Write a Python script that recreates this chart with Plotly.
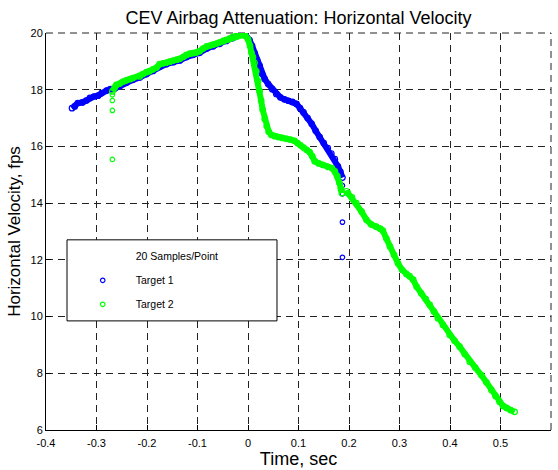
import plotly.graph_objects as go

# ---------------- data ----------------
# Target 1 (blue) main trace
t1 = [-0.3485, -0.343, -0.337, -0.328, -0.320, -0.313, -0.305, -0.297, -0.290, -0.280, -0.2725,
      -0.264, -0.254, -0.241, -0.228, -0.2145, -0.201, -0.188, -0.175, -0.162, -0.148, -0.135,
      -0.122, -0.109, -0.096, -0.082, -0.069, -0.056, -0.043, -0.030, -0.020, -0.013, -0.005,
      0.003, 0.008, 0.013, 0.018, 0.023, 0.028, 0.033, 0.040, 0.048, 0.056, 0.064, 0.072,
      0.080, 0.088, 0.096, 0.103, 0.110, 0.118, 0.126, 0.134, 0.142, 0.150, 0.158, 0.165,
      0.172, 0.178, 0.183, 0.187]
v1 = [17.35, 17.41, 17.53, 17.55, 17.62, 17.71, 17.76, 17.79, 17.88, 17.97, 18.02,
      18.04, 18.12, 18.25, 18.35, 18.43, 18.55, 18.66, 18.82, 18.90, 18.97, 19.03,
      19.15, 19.23, 19.30, 19.45, 19.53, 19.62, 19.72, 19.82, 19.90, 19.95, 19.93,
      19.75, 19.55, 19.29, 19.05, 18.85, 18.55, 18.38, 18.20, 18.02, 17.85, 17.73, 17.66,
      17.61, 17.57, 17.50, 17.35, 17.20, 17.00, 16.80, 16.55, 16.33, 16.12, 15.94, 15.75,
      15.55, 15.30, 15.10, 14.90]
# Target 1 stray samples
t1_out = [0.187, 0.187, 0.187, 0.187]
v1_out = [14.62, 14.33, 13.33, 12.09]

# Target 2 (green) main trace (None = break in the record)
t2 = [-0.2686, -0.264, -0.2606, -0.254, -0.2475, -0.241, -0.234, -0.228, -0.2145, -0.208,
      -0.201, -0.195, -0.188, -0.181, -0.175, -0.168, -0.162, -0.155, -0.148, -0.141,
      -0.135, -0.128, -0.122, -0.115, -0.109, -0.102, -0.096, -0.089, -0.082, -0.075,
      -0.069, -0.062, -0.056, -0.049, -0.043, -0.036, -0.030, -0.023, -0.016, -0.010,
      -0.005, 0.0, 0.004, 0.007, 0.010, 0.013, 0.0165, 0.020, 0.023, 0.026, 0.029, 0.033,
      0.037, 0.041, 0.046, 0.053, 0.060, 0.068, 0.076, 0.084, 0.092, 0.098, 0.104, 0.110,
      0.116, 0.122, 0.127, 0.132, 0.140, 0.148, 0.158, 0.166, 0.172, 0.177, 0.181, 0.184,
      0.186, None,
      0.195, 0.198, 0.206, 0.2146, 0.225, 0.2345, 0.244, 0.254, 0.262, 0.267, 0.274, 0.281,
      0.289, 0.297, 0.305, 0.3137, 0.320, 0.327, 0.334, 0.343, 0.352, 0.360, 0.368, 0.376,
      0.386, 0.3994, 0.409, 0.419, 0.429, 0.439, 0.450, 0.462, 0.472, 0.482, 0.490, 0.498,
      0.505, 0.512, 0.520, 0.528]
v2 = [17.94, 18.08, 18.17, 18.22, 18.29, 18.33, 18.37, 18.41, 18.47, 18.55,
      18.62, 18.65, 18.72, 18.78, 18.90, 18.93, 18.95, 18.99, 19.03, 19.06,
      19.09, 19.16, 19.23, 19.27, 19.29, 19.31, 19.36, 19.45, 19.53, 19.56,
      19.59, 19.63, 19.67, 19.72, 19.76, 19.81, 19.86, 19.90, 19.94, 19.93,
      19.90, 19.78, 19.55, 19.30, 19.15, 18.95, 18.65, 18.30, 17.95, 17.62, 17.30, 16.97,
      16.72, 16.52, 16.41, 16.36, 16.33, 16.30, 16.27, 16.24, 16.20, 16.12, 16.04, 15.96,
      15.88, 15.80, 15.66, 15.48, 15.40, 15.35, 15.28, 15.24, 15.12, 14.95, 14.72, 14.50,
      14.35, None,
      14.42, 14.35, 14.20, 14.00, 13.70, 13.41, 13.25, 13.17, 13.10, 13.03, 12.75, 12.47,
      12.18, 11.88, 11.65, 11.50, 11.43, 11.30, 11.05, 10.82, 10.62, 10.41, 10.18, 9.94,
      9.70, 9.35, 9.15, 8.94, 8.68, 8.41, 8.20, 7.94, 7.68, 7.41, 7.20, 7.00,
      6.85, 6.78, 6.70, 6.64]
# Target 2 stray samples
t2_out = [-0.2686, -0.2686, -0.2686, -0.2686]
v2_out = [17.82, 17.62, 17.27, 15.54]

x_ticks = [-0.4, -0.3, -0.2, -0.1, 0.0, 0.1, 0.2, 0.3, 0.4, 0.5, 0.6]
x_tick_text = ["-0.4", "-0.3", "-0.2", "-0.1", "0", "0.1", "0.2", "0.3", "0.4", "0.5", "0.6"]
y_ticks = [6, 8, 10, 12, 14, 16, 18, 20]
y_tick_text = ["6", "8", "10", "12", "14", "16", "18", "20"]

legend_title = "20 Samples/Point"
names = ["Target 1", "Target 2"]
colors = ["#0000FF", "#00FF00"]

FONT = "Liberation Sans, Arial, Helvetica, sans-serif"
DASH = "7px,5px"

fig = go.Figure()

# main traces
for t, v, to, vo, c in [(t1, v1, t1_out, v1_out, colors[0]), (t2, v2, t2_out, v2_out, colors[1])]:
    fig.add_trace(go.Scatter(x=t, y=v, mode="lines+markers", showlegend=False,
                             line=dict(color=c, width=6),
                             marker=dict(symbol="circle-open", size=5.5, color=c, line=dict(width=1.2)),
                             hoverinfo="skip"))
    fig.add_trace(go.Scatter(x=to, y=vo, mode="markers", showlegend=False,
                             marker=dict(symbol="circle-open", size=4.5, color=c, line=dict(width=1.2)),
                             hoverinfo="skip"))

# legend entries
fig.add_trace(go.Scatter(x=[None], y=[None], mode="markers", name=legend_title, legendgroup="g0",
                         marker=dict(size=4, color="rgba(0,0,0,0)", line=dict(width=0))))
for i, (n, c) in enumerate(zip(names, colors)):
    fig.add_trace(go.Scatter(x=[None], y=[None], mode="markers", name=n, legendgroup="g%d" % (i + 1),
                             marker=dict(symbol="circle-open", size=4.5, color=c, line=dict(width=1.2))))

axis_common = dict(
    showline=True, linecolor="black", linewidth=1, mirror=False,
    ticks="inside", ticklen=5, tickwidth=1, tickcolor="black",
    showgrid=True, gridcolor="#222222", gridwidth=1, griddash=DASH,
    zeroline=False, tickfont=dict(family=FONT, size=11, color="black"),
)

fig.update_layout(
    width=558, height=470,
    margin=dict(l=46, r=7, t=33, b=40),
    paper_bgcolor="white", plot_bgcolor="white",
    font=dict(family=FONT, color="black"),
    title=dict(text="CEV Airbag Attenuation: Horizontal Velocity", x=0.5, xref="paper",
               y=1 - 18 / 470, yref="container", yanchor="middle", xanchor="center",
               font=dict(family=FONT, size=18, color="black")),
    xaxis=dict(range=[-0.4, 0.6], tickvals=x_ticks, ticktext=x_tick_text, ticklabelstandoff=3,
               title=dict(text="Time, sec", font=dict(family=FONT, size=18), standoff=1),
               **axis_common),
    yaxis=dict(range=[6, 20], tickvals=y_ticks, ticktext=y_tick_text,
               title=dict(text="Horizontal Velocity, fps", font=dict(family=FONT, size=17), standoff=5),
               **axis_common),
    legend=dict(x=0.047, y=0.474, xanchor="left", yanchor="top", bgcolor="rgba(0,0,0,0)",
                borderwidth=0, itemwidth=56, tracegroupgap=5,
                font=dict(family=FONT, size=10.5, color="black")),
    shapes=[
        # top and right dashed grid edges
        dict(type="line", xref="paper", yref="paper", x0=0, x1=1, y0=1, y1=1,
             line=dict(color="#222222", width=1, dash=DASH), layer="below"),
        dict(type="line", xref="paper", yref="paper", x0=1, x1=1, y0=0, y1=1,
             line=dict(color="#222222", width=1, dash=DASH), layer="below"),
        # legend frame
        dict(type="rect", xref="paper", yref="paper", x0=0.0416, x1=0.4574, y0=0.2748, y1=0.479,
             fillcolor="white", line=dict(color="black", width=1), layer="above"),
    ],
)

fig.write_html("out.html")
